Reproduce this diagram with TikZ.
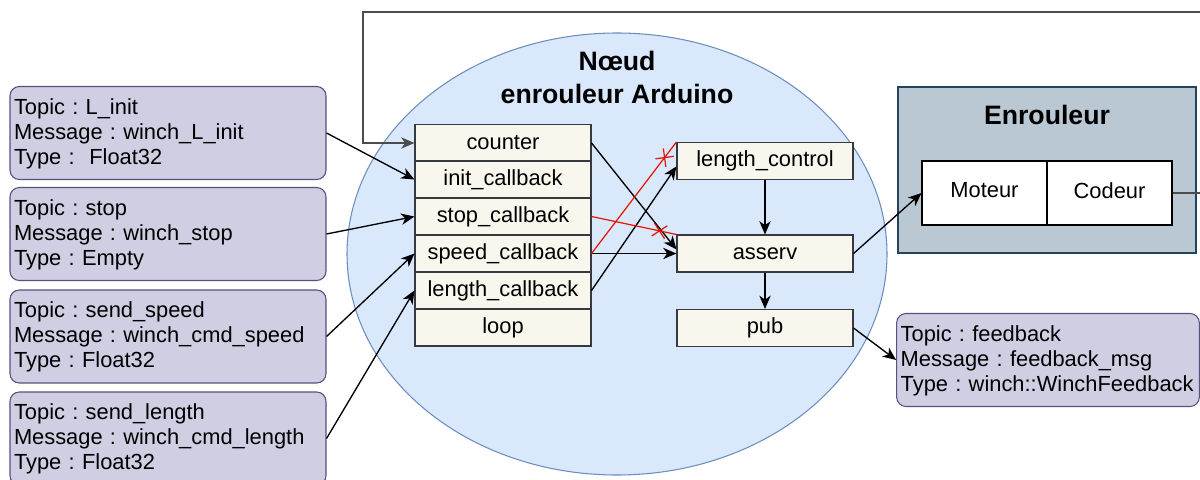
\documentclass[tikz,border=0pt]{standalone}
\usepackage{fontspec}
\setmainfont{Liberation Sans}
\usetikzlibrary{shapes.geometric,shapes.misc,arrows.meta}
\frenchspacing

\definecolor{nodefill}{HTML}{DAE8FC}
\definecolor{nodeline}{HTML}{6C8EBF}
\definecolor{cbfill}{HTML}{F9F7ED}
\definecolor{cbline}{HTML}{36393D}
\definecolor{topicfill}{HTML}{D0CEE2}
\definecolor{topicline}{HTML}{56517E}
\definecolor{hwfill}{HTML}{BAC8D3}
\definecolor{hwline}{HTML}{23445D}
\definecolor{cutred}{HTML}{E51400}

\begin{document}
\begin{tikzpicture}[x=0.75pt, y=-0.75pt,
  every node/.style={font=\fontsize{16.4}{18.75}\selectfont},
  cb/.style={draw=cbline, fill=cbfill, line width=0.8pt, minimum width=132pt, minimum height=27.75pt, inner sep=0pt},
  topic/.style={draw=topicline, fill=topicfill, line width=0.8pt, rounded corners=7pt, minimum width=237pt, minimum height=69.75pt, text width=231pt, align=left, inner xsep=3pt, inner ysep=0pt},
  hwbox/.style={draw=black, fill=white, line width=0.8pt, minimum width=93.75pt, minimum height=48pt, inner sep=0pt},
  title/.style={font=\fontsize{20}{24.75}\selectfont\bfseries, align=center},
  arr/.style={line width=1pt, -{Stealth[length=10pt, width=8.5pt, inset=3pt]}},
  cut/.style={cutred, line width=0.9pt},
  cutmark/.style={cross out, draw=cutred, line width=0.9pt, minimum size=9pt, inner sep=0pt, sloped}]
\useasboundingbox (0,0) rectangle (1200,479);

% arduino node
\node[ellipse, draw=nodeline, fill=nodefill, line width=0.8pt, minimum width=405pt, minimum height=331.5pt, inner sep=0pt] (arduino) at (617,254) {};
\node[title] (ardtitle) at (617,77) {Nœud\\enrouleur Arduino};

% callbacks
\foreach \n/\y/\lbl in {counter/143/counter, init/179.5/init\_callback, stop/216.5/stop\_callback,
  speed/253.5/speed\_callback, length/290.5/length\_callback, loop/327.5/loop}{
  \node[cb] (\n) at (503,\y) {\lbl};
}
\node[cb] (lctrl) at (765,161) {length\_control};
\node[cb] (asserv) at (765,253.5) {asserv};
\node[cb] (pub) at (765,328) {pub};

% winch hardware
\node[draw=hwline, fill=hwfill, line width=0.8pt, minimum width=223.5pt, minimum height=124.5pt, inner sep=0pt] (enrouleur) at (1047,170) {};
\node[title] (hwtitle) at (1047,115) {Enrouleur};
\node[hwbox] (moteur) at (984.5,193) {\raisebox{4pt}{Moteur}};
\node[hwbox] (codeur) at (1109.5,193) {\raisebox{4pt}{Codeur}};

% topics
\node[topic] (tinit) at (168,133) {\strut Topic : L\_init\\Message : winch\_L\_init\\Type : ~Float32};
\node[topic] (tstop) at (168,234) {\strut Topic : stop\\Message : winch\_stop\\Type : Empty};
\node[topic] (tspeed) at (168,336.5) {\strut Topic : send\_speed\\Message : winch\_cmd\_speed\\Type : Float32};
\node[topic] (tlength) at (168,438.5) {\strut Topic : send\_length\\Message : winch\_cmd\_length\\Type : Float32};
\node[topic, minimum width=225pt, text width=221pt] (tfb) at (1048,360) {\strut Topic : feedback\\Message : feedback\_msg\\Type : winch::WinchFeedback};

% subscriptions
\draw[arr] (tinit.east) -- (init.west);
\draw[arr] (tstop.east) -- (stop.west);
\draw[arr] (tspeed.east) -- (speed.west);
\draw[arr] (tlength.east) -- (length.west);

% internal flow
\draw[arr] (counter.east) -- ([yshift=3pt]asserv.west);
\draw[arr] (speed.east) -- (asserv.west);
\draw[arr] (length.east) -- ([yshift=-4pt]lctrl.west);
\draw[arr] (lctrl.south) -- (asserv.north);
\draw[arr] (asserv.south) -- (pub.north);
\draw[cut] (stop.east) -- node[cutmark, pos=0.8] {} (asserv.north west);
\draw[cut] (speed.east) -- node[cutmark, pos=0.86] {} (lctrl.north west);

% outputs
\draw[arr] (asserv.east) -- (moteur.west);
\draw[arr] (pub.east) -- (tfb.west);

% encoder feedback loop
\coordinate (loopR) at (1203,12);
\coordinate (loopL) at (363,12);
\draw[arr, black!70] (codeur.east) -| (loopR) -- (loopL) |- (counter.west);
\end{tikzpicture}
\end{document}
